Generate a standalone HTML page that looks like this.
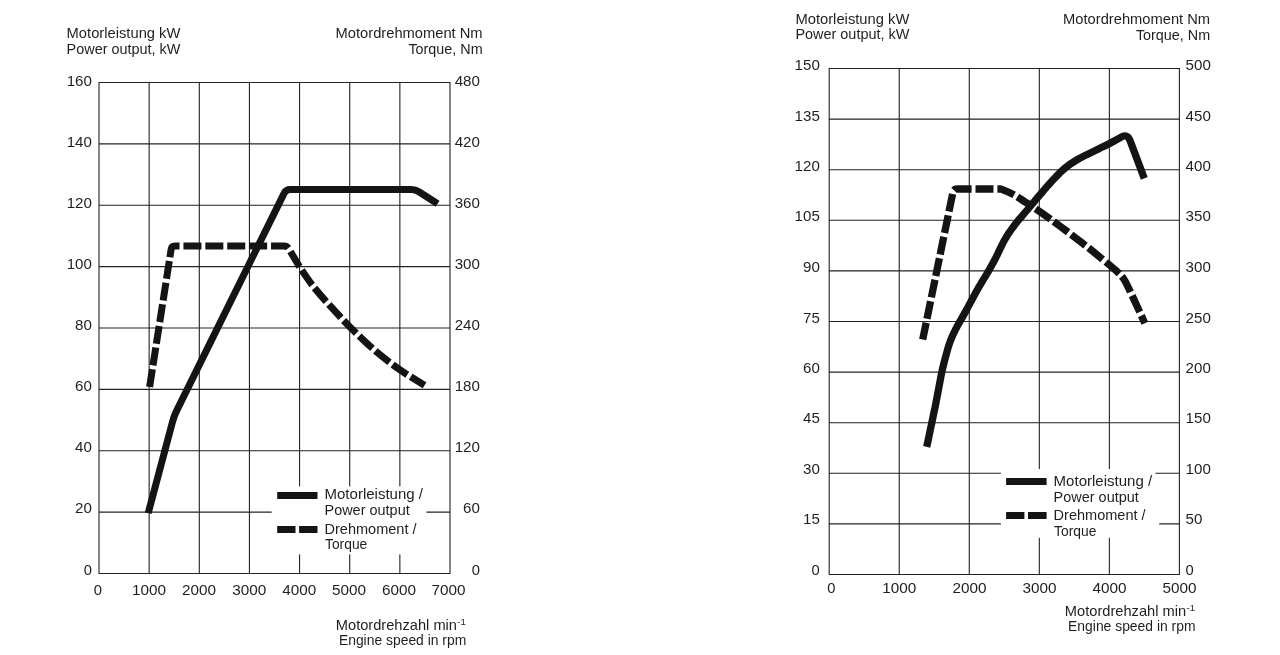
<!DOCTYPE html>
<html lang="de">
<head>
<meta charset="utf-8">
<title>Motorleistung / Drehmoment</title>
<style>
html,body{margin:0;padding:0;background:#fff;}
body{width:1280px;height:655px;overflow:hidden;}
svg{display:block;}
text{font-family:"Liberation Sans",sans-serif;fill:#1f1f1f;}
</style>
</head>
<body>
<svg width="1280" height="655" viewBox="0 0 1280 655">
<rect width="1280" height="655" fill="#fff"/>

<g id="chart-left">
<path d="M99.00 81.95V574.05M149.14 81.95V574.05M199.29 81.95V574.05M249.43 81.95V574.05M299.57 81.95V574.05M349.71 81.95V574.05M399.86 81.95V574.05M450.00 81.95V574.05M98.45 82.50H450.55M98.45 143.88H450.55M98.45 205.25H450.55M98.45 266.62H450.55M98.45 328.00H450.55M98.45 389.38H450.55M98.45 450.75H450.55M98.45 512.12H450.55M98.45 573.50H450.55" fill="none" stroke="#222" stroke-width="1.1"/>
<path d="M148.2 513.2L172.5 421.8Q174.0 416.0 176.7 410.6L284.2 193.1Q286.0 189.5 290.0 189.5L411.5 189.5Q415.5 189.5 418.9 191.7L437.6 203.7" fill="none" stroke="#141414" stroke-width="7.0" stroke-linejoin="round"/>
<path d="M149.6 387.0L171.1 249.5Q171.6 246.0 175.1 246.0L284.2 246.0Q287.2 246.0 289.0 249.1L299.2 266.3C301.5 269.6 307.7 279.3 312.8 285.8C317.9 292.3 323.6 298.7 329.7 305.4C335.8 312.1 341.8 318.8 349.2 326.2C356.6 333.6 365.4 342.4 373.8 349.6C382.2 356.8 391.2 363.7 399.7 369.6C408.2 375.6 420.5 382.7 424.6 385.3" fill="none" stroke="#141414" stroke-width="7.0" stroke-linejoin="round" stroke-dasharray="18 3.9"/>
<rect x="271.7" y="486.4" width="154.7" height="68" fill="#fff"/>
<path d="M277.2 495.4H317.5" stroke="#141414" stroke-width="7" fill="none"/>
<path d="M277.2 529.5H295.5M299.1 529.5H317.5" stroke="#141414" stroke-width="7" fill="none"/>
<text x="324.50" y="499.40" text-anchor="start" font-size="14.2" textLength="98.50" lengthAdjust="spacingAndGlyphs">Motorleistung /</text>
<text x="324.50" y="515.30" text-anchor="start" font-size="14.2" textLength="85.20" lengthAdjust="spacingAndGlyphs">Power output</text>
<text x="324.50" y="533.75" text-anchor="start" font-size="14.2" textLength="92.00" lengthAdjust="spacingAndGlyphs">Drehmoment /</text>
<text x="325.00" y="549.20" text-anchor="start" font-size="14.2" textLength="42.30" lengthAdjust="spacingAndGlyphs">Torque</text>
<text x="66.60" y="37.70" text-anchor="start" font-size="14.2" textLength="113.80" lengthAdjust="spacingAndGlyphs">Motorleistung kW</text>
<text x="66.60" y="53.70" text-anchor="start" font-size="14.2" textLength="113.80" lengthAdjust="spacingAndGlyphs">Power output, kW</text>
<text x="482.60" y="37.80" text-anchor="end" font-size="14.2" textLength="147.00" lengthAdjust="spacingAndGlyphs">Motordrehmoment Nm</text>
<text x="482.60" y="53.70" text-anchor="end" font-size="14.2" textLength="74.20" lengthAdjust="spacingAndGlyphs">Torque, Nm</text>
<text x="91.90" y="86.00" text-anchor="end" font-size="14.2" textLength="25.20" lengthAdjust="spacingAndGlyphs">160</text>
<text x="479.90" y="86.00" text-anchor="end" font-size="14.2" textLength="25.20" lengthAdjust="spacingAndGlyphs">480</text>
<text x="91.90" y="147.15" text-anchor="end" font-size="14.2" textLength="25.20" lengthAdjust="spacingAndGlyphs">140</text>
<text x="479.90" y="147.15" text-anchor="end" font-size="14.2" textLength="25.20" lengthAdjust="spacingAndGlyphs">420</text>
<text x="91.90" y="207.60" text-anchor="end" font-size="14.2" textLength="25.20" lengthAdjust="spacingAndGlyphs">120</text>
<text x="479.90" y="207.60" text-anchor="end" font-size="14.2" textLength="25.20" lengthAdjust="spacingAndGlyphs">360</text>
<text x="91.90" y="268.75" text-anchor="end" font-size="14.2" textLength="25.20" lengthAdjust="spacingAndGlyphs">100</text>
<text x="479.90" y="268.75" text-anchor="end" font-size="14.2" textLength="25.20" lengthAdjust="spacingAndGlyphs">300</text>
<text x="91.90" y="329.90" text-anchor="end" font-size="14.2" textLength="16.80" lengthAdjust="spacingAndGlyphs">80</text>
<text x="479.90" y="329.90" text-anchor="end" font-size="14.2" textLength="25.20" lengthAdjust="spacingAndGlyphs">240</text>
<text x="91.90" y="391.05" text-anchor="end" font-size="14.2" textLength="16.80" lengthAdjust="spacingAndGlyphs">60</text>
<text x="479.90" y="391.05" text-anchor="end" font-size="14.2" textLength="25.20" lengthAdjust="spacingAndGlyphs">180</text>
<text x="91.90" y="452.20" text-anchor="end" font-size="14.2" textLength="16.80" lengthAdjust="spacingAndGlyphs">40</text>
<text x="479.90" y="452.20" text-anchor="end" font-size="14.2" textLength="25.20" lengthAdjust="spacingAndGlyphs">120</text>
<text x="91.90" y="513.35" text-anchor="end" font-size="14.2" textLength="16.80" lengthAdjust="spacingAndGlyphs">20</text>
<text x="479.90" y="513.35" text-anchor="end" font-size="14.2" textLength="16.80" lengthAdjust="spacingAndGlyphs">60</text>
<text x="91.90" y="574.50" text-anchor="end" font-size="14.2" textLength="8.20" lengthAdjust="spacingAndGlyphs">0</text>
<text x="479.90" y="574.50" text-anchor="end" font-size="14.2" textLength="8.20" lengthAdjust="spacingAndGlyphs">0</text>
<text x="97.80" y="594.70" text-anchor="middle" font-size="14.2" textLength="8.20" lengthAdjust="spacingAndGlyphs">0</text>
<text x="149.00" y="594.70" text-anchor="middle" font-size="14.2" textLength="34.00" lengthAdjust="spacingAndGlyphs">1000</text>
<text x="199.10" y="594.70" text-anchor="middle" font-size="14.2" textLength="34.00" lengthAdjust="spacingAndGlyphs">2000</text>
<text x="249.20" y="594.70" text-anchor="middle" font-size="14.2" textLength="34.00" lengthAdjust="spacingAndGlyphs">3000</text>
<text x="299.20" y="594.70" text-anchor="middle" font-size="14.2" textLength="34.00" lengthAdjust="spacingAndGlyphs">4000</text>
<text x="349.00" y="594.70" text-anchor="middle" font-size="14.2" textLength="34.00" lengthAdjust="spacingAndGlyphs">5000</text>
<text x="399.00" y="594.70" text-anchor="middle" font-size="14.2" textLength="34.00" lengthAdjust="spacingAndGlyphs">6000</text>
<text x="448.50" y="594.70" text-anchor="middle" font-size="14.2" textLength="34.00" lengthAdjust="spacingAndGlyphs">7000</text>
<text x="335.8" y="630.3" font-size="14.2" textLength="121.2" lengthAdjust="spacingAndGlyphs">Motordrehzahl min</text>
<text x="457.2" y="625" font-size="8.8" textLength="8.6" lengthAdjust="spacingAndGlyphs">-1</text>
<text x="466.30" y="644.90" text-anchor="end" font-size="14.2" textLength="127.40" lengthAdjust="spacingAndGlyphs">Engine speed in rpm</text>
</g>
<g id="chart-right">
<path d="M829.20 67.95V575.05M899.24 67.95V575.05M969.28 67.95V575.05M1039.32 67.95V575.05M1109.36 67.95V575.05M1179.40 67.95V575.05M828.65 68.50H1179.95M828.65 119.10H1179.95M828.65 169.70H1179.95M828.65 220.30H1179.95M828.65 270.90H1179.95M828.65 321.50H1179.95M828.65 372.10H1179.95M828.65 422.70H1179.95M828.65 473.30H1179.95M828.65 523.90H1179.95M828.65 574.50H1179.95" fill="none" stroke="#222" stroke-width="1.1"/>
<path d="M926.7 446.9C927.0 445.6 927.8 441.7 928.4 439.1C928.9 436.5 929.5 433.8 930.0 431.2C930.6 428.6 931.1 426.0 931.7 423.4C932.2 420.8 932.8 418.2 933.3 415.6C933.9 412.9 934.4 410.3 935.0 407.7C935.5 405.1 936.0 402.5 936.5 399.9C937.0 397.2 937.5 394.6 938.0 392.0C938.5 389.4 939.1 386.6 939.5 384.1C940.0 381.7 940.4 379.7 940.8 377.2C941.3 374.8 941.9 372.0 942.4 369.4C943.0 366.8 943.7 364.2 944.3 361.6C945.0 359.0 945.7 356.5 946.4 353.9C947.1 351.3 947.8 348.7 948.6 346.2C949.4 343.7 950.3 341.2 951.3 338.7C952.3 336.2 953.4 333.8 954.6 331.4C955.8 329.0 957.0 326.7 958.3 324.3C959.6 322.0 961.0 319.7 962.3 317.4C963.6 315.1 964.9 312.7 966.2 310.4C967.5 308.0 968.7 305.7 970.0 303.3C971.3 301.0 972.5 298.6 973.8 296.3C975.1 293.9 976.3 291.6 977.6 289.3C979.0 286.9 980.3 284.6 981.7 282.3C983.0 280.1 984.6 277.7 985.9 275.5C987.2 273.4 988.2 271.7 989.4 269.5C990.7 267.3 992.0 264.8 993.3 262.5C994.5 260.1 995.8 257.8 997.0 255.4C998.2 253.0 999.2 250.5 1000.4 248.1C1001.6 245.7 1002.7 243.3 1004.0 241.0C1005.3 238.7 1006.7 236.4 1008.1 234.1C1009.6 231.9 1011.1 229.7 1012.7 227.6C1014.3 225.4 1015.9 223.4 1017.6 221.3C1019.3 219.2 1021.0 217.2 1022.8 215.1C1024.5 213.1 1026.2 211.1 1028.0 209.1C1029.7 207.0 1031.4 205.0 1033.1 202.9C1034.8 200.9 1036.5 198.8 1038.3 196.8C1040.0 194.8 1041.7 192.7 1043.5 190.7C1045.2 188.7 1047.0 186.7 1048.7 184.7C1050.5 182.7 1052.3 180.7 1054.1 178.8C1056.0 176.8 1057.8 174.8 1059.7 173.0C1061.6 171.1 1063.7 169.2 1065.6 167.6C1067.5 166.1 1069.1 164.8 1071.2 163.4C1073.3 162.1 1075.7 160.6 1078.0 159.3C1080.3 158.0 1082.7 156.8 1085.1 155.6C1087.5 154.4 1089.9 153.2 1092.3 152.0C1094.6 150.8 1097.1 149.7 1099.5 148.5C1101.9 147.3 1104.3 146.2 1106.6 145.0C1109.0 143.8 1111.4 142.5 1113.7 141.2C1116.1 139.9 1119.5 138.0 1120.7 137.3Q1127.4 133.4 1130.0 140.6L1144.3 178.4" fill="none" stroke="#141414" stroke-width="7.3" stroke-linejoin="round"/>
<path d="M922.7 339.6L952.9 192.4Q953.6 189.0 957.1 189.0H1000.8C1002.9 189.9 1009.4 192.3 1013.6 194.6C1017.8 196.8 1021.6 199.7 1026.0 202.5C1030.4 205.3 1034.2 207.7 1040.0 211.7C1045.8 215.7 1053.7 221.5 1060.6 226.6C1067.5 231.7 1074.3 236.8 1081.2 242.2C1088.1 247.5 1096.1 254.0 1101.8 258.7C1107.5 263.4 1111.9 266.8 1115.5 270.1C1119.1 273.4 1121.2 275.2 1123.5 278.5C1125.8 281.8 1127.1 285.2 1129.3 289.6C1131.5 294.0 1133.9 299.4 1136.5 305.0C1139.1 310.6 1143.4 320.2 1144.8 323.2" fill="none" stroke="#141414" stroke-width="7.3" stroke-linejoin="round" stroke-dasharray="18 3.9" stroke-dashoffset="0.7"/>
<rect x="1000.9" y="469.1" width="154.5" height="68.7" fill="#fff"/>
<rect x="1155" y="520" width="4.2" height="8" fill="#fff"/>
<path d="M1006.1 481.5H1046.6" stroke="#141414" stroke-width="7" fill="none"/>
<path d="M1006.1 515.5H1024.4M1028 515.5H1046.6" stroke="#141414" stroke-width="7" fill="none"/>
<text x="1053.60" y="485.50" text-anchor="start" font-size="14.2" textLength="98.50" lengthAdjust="spacingAndGlyphs">Motorleistung /</text>
<text x="1053.60" y="501.60" text-anchor="start" font-size="14.2" textLength="85.20" lengthAdjust="spacingAndGlyphs">Power output</text>
<text x="1053.60" y="519.80" text-anchor="start" font-size="14.2" textLength="92.00" lengthAdjust="spacingAndGlyphs">Drehmoment /</text>
<text x="1054.10" y="535.50" text-anchor="start" font-size="14.2" textLength="42.30" lengthAdjust="spacingAndGlyphs">Torque</text>
<text x="795.40" y="23.75" text-anchor="start" font-size="14.2" textLength="114.00" lengthAdjust="spacingAndGlyphs">Motorleistung kW</text>
<text x="795.40" y="39.40" text-anchor="start" font-size="14.2" textLength="114.00" lengthAdjust="spacingAndGlyphs">Power output, kW</text>
<text x="1210.10" y="23.75" text-anchor="end" font-size="14.2" textLength="147.00" lengthAdjust="spacingAndGlyphs">Motordrehmoment Nm</text>
<text x="1210.10" y="39.80" text-anchor="end" font-size="14.2" textLength="74.20" lengthAdjust="spacingAndGlyphs">Torque, Nm</text>
<text x="819.80" y="70.20" text-anchor="end" font-size="14.2" textLength="25.20" lengthAdjust="spacingAndGlyphs">150</text>
<text x="1185.60" y="70.20" text-anchor="start" font-size="14.2" textLength="25.20" lengthAdjust="spacingAndGlyphs">500</text>
<text x="819.80" y="121.18" text-anchor="end" font-size="14.2" textLength="25.20" lengthAdjust="spacingAndGlyphs">135</text>
<text x="1185.60" y="121.18" text-anchor="start" font-size="14.2" textLength="25.20" lengthAdjust="spacingAndGlyphs">450</text>
<text x="819.80" y="170.76" text-anchor="end" font-size="14.2" textLength="25.20" lengthAdjust="spacingAndGlyphs">120</text>
<text x="1185.60" y="170.76" text-anchor="start" font-size="14.2" textLength="25.20" lengthAdjust="spacingAndGlyphs">400</text>
<text x="819.80" y="221.24" text-anchor="end" font-size="14.2" textLength="25.20" lengthAdjust="spacingAndGlyphs">105</text>
<text x="1185.60" y="221.24" text-anchor="start" font-size="14.2" textLength="25.20" lengthAdjust="spacingAndGlyphs">350</text>
<text x="819.80" y="271.72" text-anchor="end" font-size="14.2" textLength="16.80" lengthAdjust="spacingAndGlyphs">90</text>
<text x="1185.60" y="271.72" text-anchor="start" font-size="14.2" textLength="25.20" lengthAdjust="spacingAndGlyphs">300</text>
<text x="819.80" y="322.70" text-anchor="end" font-size="14.2" textLength="16.80" lengthAdjust="spacingAndGlyphs">75</text>
<text x="1185.60" y="322.70" text-anchor="start" font-size="14.2" textLength="25.20" lengthAdjust="spacingAndGlyphs">250</text>
<text x="819.80" y="372.68" text-anchor="end" font-size="14.2" textLength="16.80" lengthAdjust="spacingAndGlyphs">60</text>
<text x="1185.60" y="372.68" text-anchor="start" font-size="14.2" textLength="25.20" lengthAdjust="spacingAndGlyphs">200</text>
<text x="819.80" y="423.16" text-anchor="end" font-size="14.2" textLength="16.80" lengthAdjust="spacingAndGlyphs">45</text>
<text x="1185.60" y="423.16" text-anchor="start" font-size="14.2" textLength="25.20" lengthAdjust="spacingAndGlyphs">150</text>
<text x="819.80" y="473.64" text-anchor="end" font-size="14.2" textLength="16.80" lengthAdjust="spacingAndGlyphs">30</text>
<text x="1185.60" y="473.64" text-anchor="start" font-size="14.2" textLength="25.20" lengthAdjust="spacingAndGlyphs">100</text>
<text x="819.80" y="524.12" text-anchor="end" font-size="14.2" textLength="16.80" lengthAdjust="spacingAndGlyphs">15</text>
<text x="1185.60" y="524.12" text-anchor="start" font-size="14.2" textLength="16.80" lengthAdjust="spacingAndGlyphs">50</text>
<text x="819.80" y="574.60" text-anchor="end" font-size="14.2" textLength="8.20" lengthAdjust="spacingAndGlyphs">0</text>
<text x="1185.60" y="574.60" text-anchor="start" font-size="14.2" textLength="8.20" lengthAdjust="spacingAndGlyphs">0</text>
<text x="831.40" y="592.75" text-anchor="middle" font-size="14.2" textLength="8.20" lengthAdjust="spacingAndGlyphs">0</text>
<text x="899.25" y="592.75" text-anchor="middle" font-size="14.2" textLength="34.00" lengthAdjust="spacingAndGlyphs">1000</text>
<text x="969.40" y="592.75" text-anchor="middle" font-size="14.2" textLength="34.00" lengthAdjust="spacingAndGlyphs">2000</text>
<text x="1039.50" y="592.75" text-anchor="middle" font-size="14.2" textLength="34.00" lengthAdjust="spacingAndGlyphs">3000</text>
<text x="1109.50" y="592.75" text-anchor="middle" font-size="14.2" textLength="34.00" lengthAdjust="spacingAndGlyphs">4000</text>
<text x="1179.50" y="592.75" text-anchor="middle" font-size="14.2" textLength="34.00" lengthAdjust="spacingAndGlyphs">5000</text>
<text x="1064.8" y="615.7" font-size="14.2" textLength="121.4" lengthAdjust="spacingAndGlyphs">Motordrehzahl min</text>
<text x="1186.6" y="611" font-size="8.8" textLength="8.6" lengthAdjust="spacingAndGlyphs">-1</text>
<text x="1195.50" y="630.50" text-anchor="end" font-size="14.2" textLength="127.40" lengthAdjust="spacingAndGlyphs">Engine speed in rpm</text>
</g>
</svg>
</body>
</html>
